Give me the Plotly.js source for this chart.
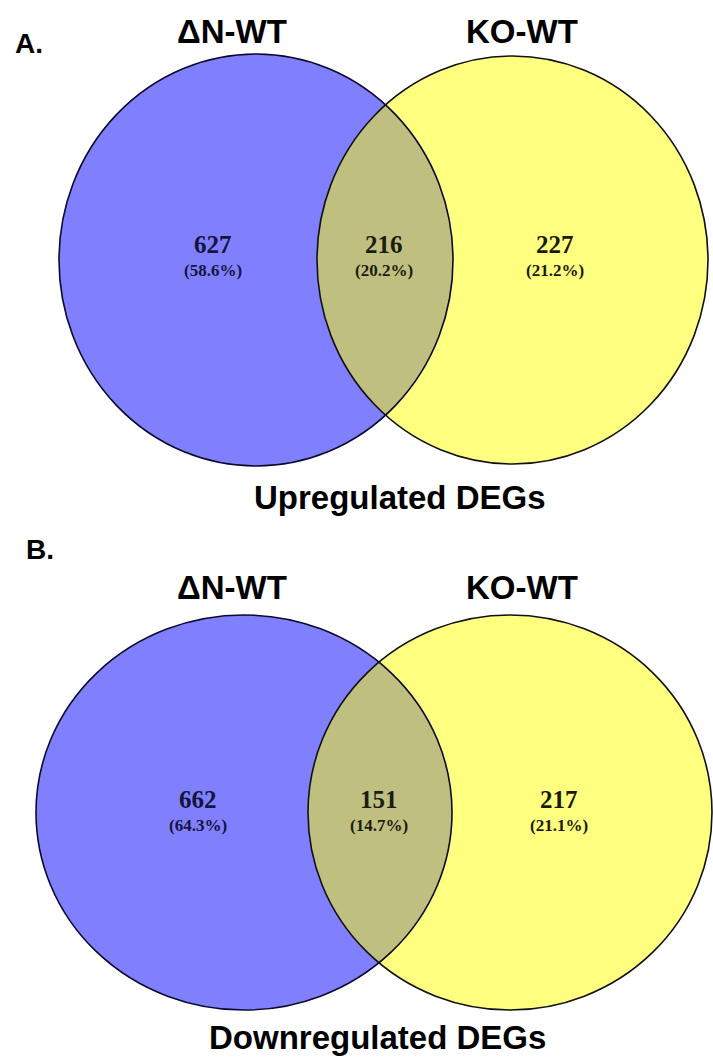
<!DOCTYPE html>
<html>
<head>
<meta charset="utf-8">
<script src="https://cdn.plot.ly/plotly-3.0.1.min.js"></script>
<style>
  html, body { margin: 0; padding: 0; background: #ffffff; }
  #chart { width: 713px; height: 1057px; }
</style>
</head>
<body>
<div id="chart"></div>
<script>
// Set names and region counts (only-left, shared, only-right) for each panel
const setNames = ["ΔN-WT", "KO-WT"];
const panelLetters = ["A.", "B."];
const panelCaptions = ["Upregulated DEGs", "Downregulated DEGs"];
const upCounts = [627, 216, 227];
const downCounts = [662, 151, 217];

// Drawing geometry in page pixels (x right, y down)
const W = 713, H = 1057;
const panels = [
  {
    counts: upCounts,
    left:  { cx: 256, cy: 260, rx: 197, ry: 206 },
    right: { cx: 512.5, cy: 260, rx: 195.5, ry: 204 },
    labelX: [213, 383.5, 555], countY: 244, pctY: 270,
    titleY: 31, titleX: [232, 522],
    letter: { x: 29, y: 43 },
    caption: { x: 400, y: 497 }
  },
  {
    counts: downCounts,
    left:  { cx: 244, cy: 812.5, rx: 208, ry: 197.5 },
    right: { cx: 510, cy: 812.5, rx: 202, ry: 197.5 },
    labelX: [198, 378.5, 558.5], countY: 799, pctY: 825,
    titleY: 587, titleX: [232, 522],
    letter: { x: 40, y: 549 },
    caption: { x: 377, y: 1037 }
  }
];

const BLUE = "#8080ff", YELLOW = "#ffff80", OVERLAP = "#bfbf80";
const SANS = "Liberation Sans, Arial, sans-serif";
const SERIF = "Liberation Serif, Times New Roman, serif";

function inside(e, x, y) {
  const dx = (x - e.cx) / e.rx, dy = (y - e.cy) / e.ry;
  return dx * dx + dy * dy <= 1;
}

// Lens outline: right arc of the left ellipse, then left arc of the right ellipse
function lensPath(a, b) {
  const n = 1440, pts = [];
  for (let i = 0; i <= n; i++) {
    const t = -Math.PI + (2 * Math.PI * i) / n;
    const x = a.cx + a.rx * Math.cos(t), y = a.cy + a.ry * Math.sin(t);
    if (inside(b, x, y)) pts.push([x, y]);
  }
  for (let i = 0; i <= n; i++) {
    const t = (2 * Math.PI * i) / n;
    const x = b.cx + b.rx * Math.cos(t), y = b.cy + b.ry * Math.sin(t);
    if (inside(a, x, y)) pts.push([x, y]);
  }
  return "M" + pts.map(p => p[0].toFixed(2) + "," + p[1].toFixed(2)).join("L") + "Z";
}

function ellipse(e, fill, line) {
  return {
    type: "circle", xref: "x", yref: "y", layer: "above",
    x0: e.cx - e.rx, x1: e.cx + e.rx, y0: e.cy - e.ry, y1: e.cy + e.ry,
    fillcolor: fill || "rgba(0,0,0,0)",
    line: line || { width: 0 }
  };
}

const shapes = [];
const annotations = [];

function txt(x, y, text, size, family, color, pad) {
  annotations.push({
    x: x, y: y, xref: "x", yref: "y", text: text, showarrow: false,
    xanchor: "center", yanchor: "middle", borderpad: pad === undefined ? 1 : pad,
    font: { size: size, family: family, color: color || "#000000" }
  });
}

panels.forEach((p, k) => {
  shapes.push(ellipse(p.left, BLUE));
  shapes.push(ellipse(p.right, YELLOW));
  shapes.push({
    type: "path", xref: "x", yref: "y", layer: "above",
    path: lensPath(p.left, p.right), fillcolor: OVERLAP, line: { width: 0 }
  });
  shapes.push(ellipse(p.left, null, { color: "#0a0a30", width: 1.6 }));
  shapes.push(ellipse(p.right, null, { color: "#111111", width: 1.6 }));

  const total = p.counts.reduce((s, v) => s + v, 0);
  const inkColors = ["#14143c", "#1c1c10", "#1a1a0a"];
  p.counts.forEach((c, i) => {
    const pct = (100 * c / total).toFixed(1);
    txt(p.labelX[i], p.countY, "<b>" + c + "</b>", 25, SERIF, inkColors[i], 0);
    txt(p.labelX[i], p.pctY, "<b>(" + pct + "%)</b>", 17, SERIF, inkColors[i], 0);
  });

  setNames.forEach((name, i) => {
    txt(p.titleX[i], p.titleY, "<b>" + name + "</b>", 33, SANS, "#000000");
  });
  txt(p.letter.x, p.letter.y, "<b>" + panelLetters[k] + "</b>", 28, SANS, "#000000");
  txt(p.caption.x, p.caption.y, "<b>" + panelCaptions[k] + "</b>", 33, SANS, "#000000");
});

const axisBase = {
  visible: false, showgrid: false, zeroline: false, fixedrange: true
};

Plotly.newPlot("chart", [], {
  width: W, height: H,
  margin: { l: 0, r: 0, t: 0, b: 0, pad: 0 },
  paper_bgcolor: "#ffffff", plot_bgcolor: "#ffffff",
  xaxis: Object.assign({ range: [0, W] }, axisBase),
  yaxis: Object.assign({ range: [H, 0] }, axisBase),
  shapes: shapes,
  annotations: annotations,
  showlegend: false
}, { staticPlot: true, displayModeBar: false });
</script>
</body>
</html>
